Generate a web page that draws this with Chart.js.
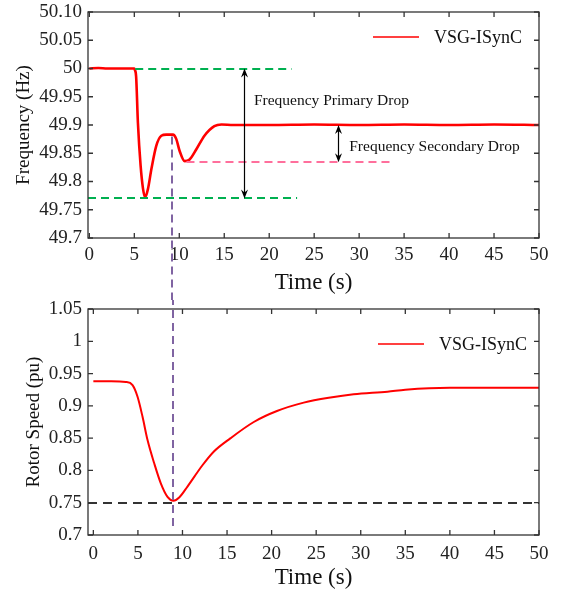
<!DOCTYPE html>
<html><head><meta charset="utf-8">
<script src="https://cdn.jsdelivr.net/npm/chart.js@4.4.1/dist/chart.umd.min.js"></script>
<style>
html,body{margin:0;padding:0;background:#fff;overflow:hidden;}
#w1{position:absolute;left:0;top:0;width:562px;height:300px;}
#w2{position:absolute;left:0;top:300px;width:562px;height:295px;}
</style></head><body>
<div id="w1"><canvas id="c1"></canvas></div>
<div id="w2"><canvas id="c2"></canvas></div>
<script>
// ---------- data ----------
const seriesName = 'VSG-ISynC';
const timeTicks = [0,5,10,15,20,25,30,35,40,45,50];
const freqTicks = [49.7,49.75,49.8,49.85,49.9,49.95,50,50.05,50.1];
const freqTickLabels = ['49.7','49.75','49.8','49.85','49.9','49.95','50','50.05','50.10'];
const speedTicks = [0.7,0.75,0.8,0.85,0.9,0.95,1,1.05];
const speedTickLabels = ['0.7','0.75','0.8','0.85','0.9','0.95','1','1.05'];

const freqTime   = [0,1,2,3,4,5.0,5.05,5.2,5.4,5.7,5.97,6.2,6.52,6.9,7.44,8.0,8.56,9.3,9.67,10.04,10.6,11.15,11.9,12.8,13.9,14.7,16,20,25,30,35,40,45,50];
const freqValues = [50,50.001,50,50,50,50,49.998,49.986,49.904,49.828,49.787,49.772,49.787,49.822,49.863,49.881,49.883,49.883,49.875,49.854,49.836,49.839,49.857,49.881,49.898,49.901,49.9,49.9,49.901,49.9,49.901,49.9,49.901,49.9];

const speedTime   = [0,2,3.65,4.4,4.96,5.52,6.08,6.83,7.57,8.32,8.99,9.63,10.56,12.24,13.5,15.4,18.0,20.6,23.6,26.6,29.2,33,35,40,45,50];
const speedValues = [0.938,0.938,0.937,0.932,0.914,0.883,0.847,0.811,0.780,0.759,0.753,0.758,0.775,0.808,0.829,0.850,0.875,0.892,0.905,0.913,0.918,0.922,0.925,0.928,0.928,0.928];

// annotation values (data units)
const upperGreen = [5.1, 22.5, 50];        // xStart, xEnd, y
const lowerGreen = [-0.15, 23.1, 49.77];
const pinkLine   = [10.8, 33.7, 49.834];
const primaryArrow   = [17.2, 50, 49.77];  // x, yTop, yBottom
const secondaryArrow = [27.7, 49.9, 49.834];
const primaryText   = ['Frequency Primary Drop', 18.3, 49.942];
const secondaryText = ['Frequency Secondary Drop', 28.9, 49.861];
const markerTopX = 9.2, markerTopY = 49.883;
const markerBottomX = 8.9, markerBottomY = 0.708;
const speedRef = 0.75;

// ---------- helpers ----------
const SERIF = '"Liberation Serif", "Times New Roman", serif';

function drawFrame(chart){
  const {ctx, chartArea:a, scales:{x,y}} = chart;
  ctx.save();
  ctx.strokeStyle = '#333'; ctx.lineWidth = 1.3;
  ctx.strokeRect(a.left, a.top, a.right-a.left, a.bottom-a.top);
  ctx.beginPath();
  x.ticks.forEach(t=>{
    const px = x.getPixelForValue(t.value);
    ctx.moveTo(px, a.bottom); ctx.lineTo(px, a.bottom-5);
    ctx.moveTo(px, a.top); ctx.lineTo(px, a.top+5);
  });
  y.ticks.forEach(t=>{
    const py = y.getPixelForValue(t.value);
    ctx.moveTo(a.left, py); ctx.lineTo(a.left+5, py);
    ctx.moveTo(a.right, py); ctx.lineTo(a.right-5, py);
  });
  ctx.stroke();
  ctx.restore();
}
function drawLegend(chart, x0, x1, yv, tx){
  const ctx = chart.ctx, ds = chart.data.datasets[0];
  ctx.save();
  ctx.strokeStyle = ds.borderColor; ctx.lineWidth = 1.5;
  ctx.beginPath(); ctx.moveTo(x0,yv); ctx.lineTo(x1,yv); ctx.stroke();
  ctx.fillStyle = '#111'; ctx.font = '18px ' + SERIF;
  ctx.textBaseline = 'middle'; ctx.textAlign = 'left';
  ctx.fillText(ds.label, tx, yv+1);
  ctx.restore();
}
function hDash(chart, seg, color, dash, w){
  const {ctx, scales:{x,y}} = chart;
  ctx.save(); ctx.strokeStyle = color; ctx.lineWidth = w; ctx.setLineDash(dash);
  const py = Math.round(y.getPixelForValue(seg[2]));
  ctx.beginPath(); ctx.moveTo(x.getPixelForValue(seg[0]), py); ctx.lineTo(x.getPixelForValue(seg[1]), py); ctx.stroke();
  ctx.restore();
}
function dArrow(chart, arr){
  const {ctx, scales:{x,y}} = chart;
  const px = Math.round(x.getPixelForValue(arr[0])) + 0.5;
  const y1 = y.getPixelForValue(arr[1]), y2 = y.getPixelForValue(arr[2]);
  ctx.save(); ctx.strokeStyle = '#000'; ctx.fillStyle = '#000'; ctx.lineWidth = 1.2;
  ctx.beginPath(); ctx.moveTo(px, y1+4); ctx.lineTo(px, y2-4); ctx.stroke();
  ctx.beginPath(); ctx.moveTo(px, y1); ctx.lineTo(px-3.5, y1+9); ctx.lineTo(px, y1+6); ctx.lineTo(px+3.5, y1+9); ctx.closePath(); ctx.fill();
  ctx.beginPath(); ctx.moveTo(px, y2); ctx.lineTo(px-3.5, y2-9); ctx.lineTo(px, y2-6); ctx.lineTo(px+3.5, y2-9); ctx.closePath(); ctx.fill();
  ctx.restore();
}
function label(chart, t){
  const {ctx, scales:{x,y}} = chart;
  ctx.save(); ctx.fillStyle = '#111'; ctx.font = '15.5px ' + SERIF;
  ctx.textBaseline = 'middle'; ctx.textAlign = 'left';
  ctx.fillText(t[0], x.getPixelForValue(t[1]), y.getPixelForValue(t[2]));
  ctx.restore();
}

function baseOptions(xMin, yMin, yMax, yTicks, yLabels, yTitle, yTitlePad, xHeight, xPadTicks, padTop){
  return {
    responsive: true, maintainAspectRatio: false, animation: false, devicePixelRatio: 1,
    layout: {padding: {top: padTop, right: 23, left: 0, bottom: 0}},
    plugins: {legend: {display: false}, tooltip: {enabled: false}},
    scales: {
      x: {
        type: 'linear', min: xMin, max: 50,
        grid: {display: false, drawTicks: false}, border: {display: false},
        afterBuildTicks: s => { s.ticks = timeTicks.map(v => ({value: v})); },
        afterFit: s => { s.height = xHeight; s.paddingLeft = 0; s.paddingRight = 0; },
        ticks: {color: '#222', font: {family: SERIF, size: 19}, padding: xPadTicks, maxRotation: 0,
                callback: (v) => String(v)},
        title: {display: true, text: 'Time (s)', color: '#111', font: {family: SERIF, size: 23, lineHeight: 1}, padding: {top: 0, bottom: 5.5}}
      },
      y: {
        type: 'linear', min: yMin, max: yMax,
        grid: {display: false, drawTicks: false}, border: {display: false},
        afterBuildTicks: s => { s.ticks = yTicks.map(v => ({value: v})); },
        afterFit: s => { s.width = 88; s.paddingTop = 0; s.paddingBottom = 0; },
        ticks: {color: '#222', font: {family: SERIF, size: 19}, padding: 6,
                callback: (v, i) => yLabels[i]},
        title: {display: true, text: yTitle, color: '#111', font: {family: SERIF, size: 19, lineHeight: 1}, padding: {top: yTitlePad, bottom: 0}}
      }
    }
  };
}

// ---------- top chart ----------
const topDeco = {
  id: 'topDeco',
  afterDatasetsDraw(chart){
    const {ctx, scales:{x,y}} = chart;
    hDash(chart, upperGreen, '#00b050', [8,5], 2);
    hDash(chart, lowerGreen, '#00b050', [8,5], 2);
    hDash(chart, pinkLine, '#ff6f9c', [8,5], 2);
    dArrow(chart, primaryArrow);
    dArrow(chart, secondaryArrow);
    label(chart, primaryText);
    label(chart, secondaryText);
    const px = Math.round(x.getPixelForValue(markerTopX));
    ctx.save(); ctx.strokeStyle = '#8064a2'; ctx.lineWidth = 2; ctx.setLineDash([8,5]);
    ctx.beginPath(); ctx.moveTo(px, y.getPixelForValue(markerTopY)+2); ctx.lineTo(px, chart.height); ctx.stroke();
    ctx.restore();
  },
  afterDraw(chart){
    drawFrame(chart);
    drawLegend(chart, 373, 419, 37, 434);
  }
};
new Chart(document.getElementById('c1'), {
  type: 'line',
  data: {datasets: [{
    label: seriesName,
    data: freqTime.map((t,i) => ({x: t, y: freqValues[i]})),
    borderColor: '#ff0000', borderWidth: 2.6, pointRadius: 0, fill: false,
    cubicInterpolationMode: 'monotone'
  }]},
  options: baseOptions(-0.15, 49.7, 50.1, freqTicks, freqTickLabels, 'Frequency (Hz)', 15, 62, 6, 12),
  plugins: [topDeco]
});

// ---------- bottom chart ----------
const botDeco = {
  id: 'botDeco',
  afterDatasetsDraw(chart){
    const {ctx, chartArea:a, scales:{x,y}} = chart;
    ctx.save(); ctx.strokeStyle = '#333'; ctx.lineWidth = 2; ctx.setLineDash([9,6]);
    const py = Math.round(y.getPixelForValue(speedRef));
    ctx.beginPath(); ctx.moveTo(a.left, py); ctx.lineTo(a.right, py); ctx.stroke();
    ctx.restore();
    const px = Math.round(x.getPixelForValue(markerBottomX));
    ctx.save(); ctx.strokeStyle = '#8064a2'; ctx.lineWidth = 2; ctx.setLineDash([8,5]); ctx.lineDashOffset = 3;
    ctx.beginPath(); ctx.moveTo(px, 0); ctx.lineTo(px, y.getPixelForValue(markerBottomY)); ctx.stroke();
    ctx.restore();
  },
  afterDraw(chart){
    drawFrame(chart);
    drawLegend(chart, 378, 424, 44, 439);
  }
};
new Chart(document.getElementById('c2'), {
  type: 'line',
  data: {datasets: [{
    label: seriesName,
    data: speedTime.map((t,i) => ({x: t, y: speedValues[i]})),
    borderColor: '#ff0000', borderWidth: 2, pointRadius: 0, fill: false,
    cubicInterpolationMode: 'monotone'
  }]},
  options: baseOptions(-0.6, 0.7, 1.05, speedTicks, speedTickLabels, 'Rotor Speed (pu)', 24.5, 60, 8, 9),
  plugins: [botDeco]
});
</script>
</body></html>
